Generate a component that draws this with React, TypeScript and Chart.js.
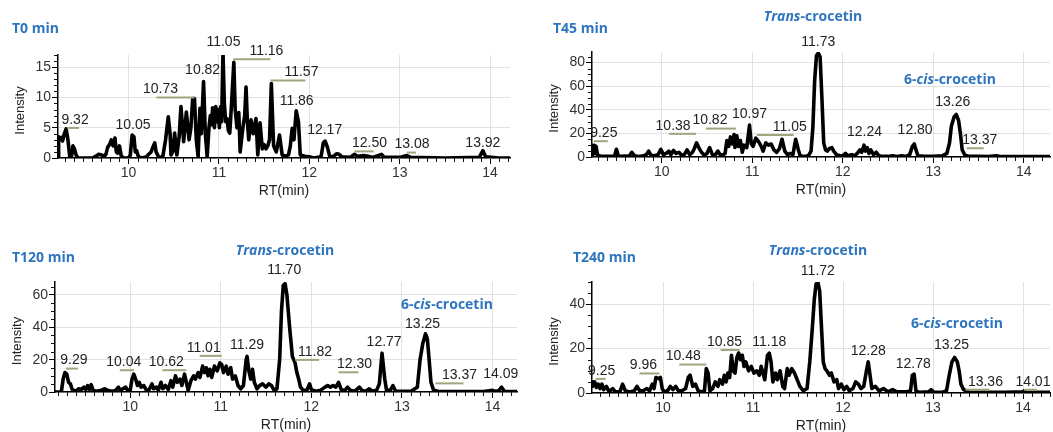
import React, { useEffect, useRef } from "react";
import { Chart, registerables } from "chart.js";

Chart.register(...registerables);

// ---------------- data ----------------
const t0RT = [9.22, 9.227, 9.24, 9.257, 9.27, 9.29, 9.31, 9.33, 9.35, 9.37, 9.385, 9.4, 9.42, 9.44, 9.5, 9.6, 9.64, 9.67, 9.7, 9.73, 9.75, 9.77, 9.79, 9.81, 9.83, 9.85, 9.865, 9.88, 9.9, 9.92, 9.95, 10.0, 10.02, 10.04, 10.06, 10.075, 10.09, 10.11, 10.15, 10.2, 10.215, 10.25, 10.27, 10.29, 10.305, 10.34, 10.38, 10.41, 10.44, 10.46, 10.47, 10.49, 10.51, 10.535, 10.56, 10.58, 10.61, 10.64, 10.67, 10.69, 10.71, 10.73, 10.75, 10.77, 10.79, 10.805, 10.83, 10.85, 10.87, 10.89, 10.905, 10.92, 10.93, 10.95, 10.965, 10.98, 10.99, 11.005, 11.02, 11.03, 11.045, 11.06, 11.075, 11.09, 11.105, 11.12, 11.14, 11.165, 11.18, 11.2, 11.22, 11.235, 11.25, 11.265, 11.285, 11.3, 11.315, 11.33, 11.355, 11.38, 11.41, 11.43, 11.455, 11.48, 11.5, 11.52, 11.54, 11.56, 11.58, 11.605, 11.635, 11.67, 11.7, 11.74, 11.77, 11.79, 11.81, 11.83, 11.855, 11.88, 11.9, 11.95, 12.0, 12.05, 12.13, 12.155, 12.175, 12.2, 12.225, 12.26, 12.3, 12.33, 12.36, 12.45, 12.5, 12.53, 12.6, 12.65, 12.7, 12.8, 12.83, 13.0, 13.08, 13.12, 13.5, 13.88, 13.92, 13.95, 14.1, 14.22];
const t0Intensity = [0, 3.5, 3.2, 3.4, 2.8, 4.0, 4.8, 3.0, 0.2, 0.3, 2.0, 1.6, 0.5, 0, 0, 0, 0.3, 0.6, 0.5, 0.3, 0.6, 1.8, 2.2, 3.0, 2.0, 3.3, 1.0, 0.8, 2.0, 0.3, 0, 0, 0.5, 3.8, 3.5, 1.0, 1.2, 0.2, 0, 0.2, 0.5, 1.0, 1.8, 2.5, 1.0, 0, 0.3, 3.0, 6.8, 4.0, 0.5, 1.0, 4.1, 0.5, 3.5, 8.5, 2.7, 7.6, 3.0, 5.0, 9.8, 9.8, 3.0, 0.2, 8.2, 4.0, 12.6, 4.0, 0.2, 5.0, 7.0, 5.5, 8.3, 5.0, 8.5, 6.0, 8.0, 5.0, 8.5, 6.0, 17.5, 9.0, 6.0, 6.5, 4.5, 4.1, 9.0, 15.8, 8.0, 5.0, 7.5, 1.0, 3.0, 5.0, 7.0, 11.7, 6.0, 3.0, 6.3, 4.0, 6.5, 0.5, 5.8, 1.5, 2.2, 1.5, 2.0, 3.0, 12.3, 2.0, 1.0, 3.8, 0.5, 0.3, 0.5, 2.0, 4.9, 3.0, 7.8, 6.0, 0.5, 0.3, 0.2, 0, 0.2, 2.5, 2.8, 1.8, 0.3, 0.2, 0.7, 0.6, 0.2, 0.1, 0.6, 0.3, 0.4, 0.3, 0.1, 0.6, 0.1, 0.1, 0.4, 0.1, 0, 0.1, 1.2, 0.2, 0, 0];
const t0PeakRT = [9.32, 10.05, 10.73, 10.82, 11.05, 11.16, 11.57, 11.86, 12.17, 12.5, 13.08, 13.92];

const t45RT = [9.23, 9.235, 9.245, 9.255, 9.265, 9.275, 9.29, 9.31, 9.35, 9.45, 9.48, 9.5, 9.52, 9.55, 9.6, 9.64, 9.67, 9.7, 9.75, 9.8, 9.83, 9.855, 9.88, 9.92, 9.96, 9.99, 10.02, 10.05, 10.08, 10.1, 10.13, 10.16, 10.19, 10.22, 10.25, 10.28, 10.31, 10.34, 10.36, 10.385, 10.41, 10.44, 10.47, 10.5, 10.53, 10.56, 10.59, 10.62, 10.65, 10.68, 10.7, 10.72, 10.74, 10.76, 10.78, 10.8, 10.81, 10.83, 10.85, 10.87, 10.89, 10.91, 10.94, 10.97, 10.99, 11.01, 11.04, 11.07, 11.1, 11.12, 11.15, 11.18, 11.21, 11.24, 11.27, 11.3, 11.33, 11.36, 11.39, 11.42, 11.45, 11.48, 11.51, 11.53, 11.57, 11.62, 11.65, 11.67, 11.69, 11.71, 11.73, 11.75, 11.77, 11.79, 11.81, 11.83, 11.85, 11.88, 11.9, 11.93, 11.97, 12.0, 12.03, 12.06, 12.1, 12.13, 12.16, 12.19, 12.21, 12.235, 12.25, 12.27, 12.29, 12.31, 12.34, 12.37, 12.4, 12.45, 12.5, 12.55, 12.6, 12.65, 12.7, 12.74, 12.77, 12.79, 12.81, 12.83, 12.9, 13.0, 13.1, 13.15, 13.18, 13.2, 13.23, 13.255, 13.28, 13.3, 13.32, 13.35, 13.4, 13.5, 13.6, 13.7, 13.75, 14.0, 14.29];
const t45Intensity = [0, 10, 5, 10, 3, 9, 2, 1, 0.5, 0.5, 1, 6.5, 1, 0.5, 0.8, 0.5, 4, 1, 0.5, 1, 2, 5, 1.5, 1, 2, 6.5, 2, 3, 5, 2, 5.5, 3, 4, 1.5, 2, 6, 2, 4, 7, 12, 8, 4, 1.5, 3, 8, 2, 1.5, 5, 1.5, 2, 3, 14, 9, 17, 11, 19, 8, 18, 9, 14, 4, 10, 8, 27, 11, 9, 16, 13, 9, 5, 12, 10, 11, 6, 4, 7, 15, 5, 2, 3, 2, 15, 6, 1, 0.5, 1, 5, 25, 65, 86, 88, 85, 50, 12, 6, 5, 7, 8, 5, 2, 1, 1, 3, 1, 2, 1, 3, 6, 4, 10, 5, 8, 3, 6, 2, 4, 1, 0.5, 0.5, 1, 0.5, 1, 0.5, 2, 9, 11, 6, 1, 0.5, 0.5, 1, 3, 12, 26, 34, 36, 31, 20, 6, 1.5, 0.5, 0.5, 0.3, 1, 0.3, 0.3, 0.3];
const t45PeakRT = [9.25, 10.38, 10.82, 10.97, 11.05, 11.73, 12.24, 12.8, 13.26, 13.37];

const t120RT = [9.17, 9.24, 9.26, 9.28, 9.3, 9.32, 9.34, 9.36, 9.4, 9.43, 9.46, 9.49, 9.51, 9.53, 9.55, 9.57, 9.59, 9.63, 9.68, 9.72, 9.75, 9.8, 9.84, 9.87, 9.89, 9.92, 9.95, 9.97, 10.0, 10.02, 10.04, 10.06, 10.08, 10.1, 10.12, 10.15, 10.18, 10.21, 10.24, 10.26, 10.29, 10.31, 10.34, 10.36, 10.39, 10.42, 10.45, 10.47, 10.5, 10.52, 10.55, 10.57, 10.6, 10.62, 10.64, 10.67, 10.7, 10.72, 10.75, 10.77, 10.8, 10.82, 10.84, 10.86, 10.88, 10.9, 10.93, 10.96, 10.99, 11.01, 11.03, 11.06, 11.08, 11.11, 11.13, 11.16, 11.19, 11.22, 11.25, 11.28, 11.29, 11.31, 11.33, 11.35, 11.37, 11.4, 11.43, 11.46, 11.5, 11.53, 11.56, 11.59, 11.62, 11.65, 11.67, 11.69, 11.71, 11.73, 11.76, 11.79, 11.82, 11.84, 11.86, 11.88, 11.91, 11.95, 11.98, 12.0, 12.05, 12.1, 12.15, 12.18, 12.21, 12.24, 12.27, 12.3, 12.33, 12.37, 12.4, 12.43, 12.48, 12.53, 12.56, 12.6, 12.64, 12.67, 12.72, 12.75, 12.78, 12.81, 12.83, 12.87, 12.9, 12.93, 13.0, 13.1, 13.17, 13.2, 13.23, 13.26, 13.28, 13.3, 13.32, 13.35, 13.4, 13.5, 13.7, 13.9, 14.0, 14.04, 14.07, 14.1, 14.13, 14.2, 14.27];
const t120Intensity = [0, 0, 8, 12, 11, 6, 5, 1.5, 0.5, 2, 1.5, 3, 1.5, 4, 1.5, 4.5, 1, 0.5, 1, 2, 1, 0.5, 1, 3, 1, 2, 3, 1, 1, 8, 11, 8, 4, 6, 3, 4, 1, 1.5, 5, 2, 3, 1, 6, 2, 4, 1.5, 7, 3, 10, 6, 8, 4, 11, 6, 1, 7, 10, 8, 12, 9, 16, 12, 15, 10, 14, 9, 16, 13, 18, 17, 12, 16, 11, 15, 8, 10, 4, 2, 4, 20, 22, 13, 8, 14, 6, 2, 4, 5, 3, 5, 4, 1, 2, 20, 50, 66, 67, 60, 40, 22, 18, 12, 8, 3, 1, 1, 5, 1.5, 0.5, 1, 3, 4, 3, 4, 3, 6, 1.5, 1, 3, 1, 0.5, 3, 1, 0.5, 2, 0.5, 1, 5, 24, 8, 1, 1, 4, 0.5, 0.5, 0.5, 3, 20, 30, 36, 33, 20, 6, 1, 0.5, 0.3, 0.3, 0.3, 1, 0.3, 1, 3, 0.5, 0.3, 0.3];
const t120PeakRT = [9.29, 10.04, 10.62, 11.01, 11.29, 11.7, 11.82, 12.3, 12.77, 13.25, 13.37, 14.09];

const t240RT = [9.21, 9.22, 9.24, 9.26, 9.28, 9.3, 9.32, 9.34, 9.37, 9.4, 9.44, 9.47, 9.52, 9.55, 9.58, 9.63, 9.68, 9.71, 9.74, 9.78, 9.82, 9.85, 9.88, 9.9, 9.92, 9.95, 9.97, 9.99, 10.01, 10.05, 10.08, 10.11, 10.14, 10.17, 10.21, 10.25, 10.28, 10.3, 10.33, 10.36, 10.39, 10.43, 10.46, 10.48, 10.5, 10.52, 10.55, 10.58, 10.61, 10.63, 10.66, 10.68, 10.7, 10.72, 10.74, 10.76, 10.78, 10.8, 10.82, 10.84, 10.86, 10.88, 10.9, 10.92, 10.95, 10.98, 11.01, 11.04, 11.07, 11.09, 11.11, 11.13, 11.16, 11.18, 11.2, 11.22, 11.25, 11.27, 11.3, 11.33, 11.35, 11.38, 11.4, 11.43, 11.46, 11.49, 11.52, 11.56, 11.6, 11.63, 11.66, 11.68, 11.7, 11.72, 11.74, 11.76, 11.78, 11.8, 11.82, 11.85, 11.87, 11.9, 11.93, 11.95, 11.98, 12.01, 12.04, 12.07, 12.11, 12.14, 12.17, 12.2, 12.23, 12.26, 12.28, 12.3, 12.32, 12.36, 12.4, 12.45, 12.5, 12.55, 12.6, 12.7, 12.75, 12.77, 12.79, 12.81, 12.85, 12.95, 12.98, 13.01, 13.1, 13.15, 13.18, 13.21, 13.24, 13.27, 13.29, 13.31, 13.34, 13.37, 13.4, 13.6, 13.8, 14.0, 14.01, 14.04, 14.3];
const t240Intensity = [5, 3, 5, 2.5, 4, 2, 4, 1.5, 3, 0.5, 2, 0.5, 0.5, 4, 1, 0.5, 1, 3, 1, 1, 2, 1, 4, 2, 7, 6.5, 7, 2, 0.5, 1, 3, 1.5, 3, 1, 1, 2, 7, 8, 3, 4, 1, 0.5, 1, 11, 9, 1, 2, 5, 3, 6, 4, 8, 5, 9, 7, 17, 10, 9, 16, 18, 15, 17, 12, 14, 10, 12, 9, 10, 8, 12, 9, 6, 17, 18, 14, 5, 9, 6, 10, 3, 2, 11, 8, 11, 9, 6, 3, 1, 2, 14, 30, 42, 49, 50, 46, 30, 14, 11, 10, 8, 9, 5, 6, 2, 4, 1.5, 3, 1, 2, 5, 4, 2, 3, 10, 14, 8, 2, 3, 1, 2, 0.5, 1.5, 0.5, 0.5, 1, 8, 8.5, 1, 0.3, 0.5, 1.5, 0.3, 0.3, 1, 8, 14, 16, 14, 10, 4, 1.5, 1, 0.3, 0.3, 0.3, 0.5, 1, 0.3, 0.3];
const t240PeakRT = [9.25, 9.96, 10.48, 10.85, 11.18, 11.72, 12.28, 12.78, 13.25, 13.36, 14.01];

const xTickValues = [10, 11, 12, 13, 14];
const t0YTicks = [0, 5, 10, 15];
const t45YTicks = [0, 20, 40, 60, 80];
const t120YTicks = [0, 20, 40, 60];
const t240YTicks = [0, 20, 40];

// ---------------- layout / style ----------------
const BLUE = "#2e75c0";
const SANS = "'Liberation Sans', Arial, sans-serif";
type Part = [string, boolean];
type TitleDef = { parts: Part[]; x: number; y: number; align: "left" | "center" };
const TRANS: Part[] = [["Trans", true], ["-crocetin", false]];
const CIS: Part[] = [["6-", false], ["cis", true], ["-crocetin", false]];

// label offsets [dx, dy] (px) relative to the peak top
const t0LabelLayout = [[8, 8], [0, 9], [-34, 8], [0, 11], [0, 9], [33, 10], [31, 10], [0, 9], [0, 10], [15, 10], [5, 10], [0, 7]];
const t45LabelLayout = [[10, 11], [-23, 16], [-26, 13], [0, 10], [33, 10], [0, 10], [0, 12], [0, 13], [-4, 11], [13, 14]];
const t120LabelLayout = [[8, 11], [-10, 11], [-20, 11], [-18, 14], [0, 10], [0, 12], [20, 10], [16, 17], [3, 10], [-2, 9], [24, 14], [0, 12]];
const t240LabelLayout = [[6, 10], [-16, 11], [-23, 11], [-15, 10], [0, 10], [0, 10], [0, 10], [0, 9], [-4, 11], [20, 7], [9, 8]];

type PanelDef = {
  id: string;
  x: number; y: number; w: number; h: number;
  area: { l: number; t: number; r: number; b: number };
  xMin: number; xMax: number; yMax: number; yMinor: number;
  yTicks: number[];
  rt: number[]; inten: number[];
  peaks: number[]; layout: number[][];
  titles: TitleDef[];
};

const panels: PanelDef[] = [
  {
    id: "t0", x: 0, y: 0, w: 520, h: 215,
    area: { l: 58, t: 55, r: 510, b: 158 },
    xMin: 9.22, xMax: 14.22, yMax: 17, yMinor: 1, yTicks: t0YTicks,
    rt: t0RT, inten: t0Intensity, peaks: t0PeakRT, layout: t0LabelLayout,
    titles: [{ parts: [["T0 min", false]], x: 12, y: 29, align: "left" }],
  },
  {
    id: "t45", x: 520, y: 0, w: 533, h: 215,
    area: { l: 72, t: 52, r: 530, b: 157 },
    xMin: 9.23, xMax: 14.29, yMax: 89, yMinor: 5, yTicks: t45YTicks,
    rt: t45RT, inten: t45Intensity, peaks: t45PeakRT, layout: t45LabelLayout,
    titles: [
      { parts: [["T45 min", false]], x: 33, y: 29, align: "left" },
      { parts: TRANS, x: 293, y: 17, align: "center" },
      { parts: CIS, x: 430, y: 80, align: "center" },
    ],
  },
  {
    id: "t120", x: 0, y: 230, w: 520, h: 202,
    area: { l: 55, t: 52, r: 517, b: 162 },
    xMin: 9.17, xMax: 14.27, yMax: 68, yMinor: 5, yTicks: t120YTicks,
    rt: t120RT, inten: t120Intensity, peaks: t120PeakRT, layout: t120LabelLayout,
    titles: [
      { parts: [["T120 min", false]], x: 12, y: 28, align: "left" },
      { parts: TRANS, x: 285, y: 21, align: "center" },
      { parts: CIS, x: 447, y: 75, align: "center" },
    ],
  },
  {
    id: "t240", x: 520, y: 230, w: 533, h: 202,
    area: { l: 72, t: 52, r: 530, b: 163 },
    xMin: 9.21, xMax: 14.3, yMax: 50, yMinor: 5, yTicks: t240YTicks,
    rt: t240RT, inten: t240Intensity, peaks: t240PeakRT, layout: t240LabelLayout,
    titles: [
      { parts: [["T240 min", false]], x: 53, y: 28, align: "left" },
      { parts: TRANS, x: 298, y: 21, align: "center" },
      { parts: CIS, x: 437, y: 94, align: "center" },
    ],
  },
];

function drawRich(ctx: CanvasRenderingContext2D, t: TitleDef) {
  const fontFor = (it: boolean) => `${it ? "italic " : ""}bold 14px 'Open Sans', sans-serif`;
  let w = 0;
  t.parts.forEach(([s, it]) => {
    ctx.font = fontFor(it);
    w += ctx.measureText(s).width;
  });
  let cx = t.align === "center" ? t.x - w / 2 : t.x;
  ctx.textAlign = "left";
  ctx.textBaseline = "middle";
  ctx.fillStyle = BLUE;
  t.parts.forEach(([s, it]) => {
    ctx.font = fontFor(it);
    ctx.fillText(s, cx, t.y);
    cx += ctx.measureText(s).width;
  });
}

function makeDecor(p: PanelDef) {
  return {
    id: "decor_" + p.id,
    afterDraw(chart: any) {
      const ctx: CanvasRenderingContext2D = chart.ctx;
      const a = chart.chartArea;
      const xs = chart.scales.x;
      const ys = chart.scales.y;
      ctx.save();
      // minor ticks
      ctx.strokeStyle = "#111";
      ctx.lineWidth = 1;
      ctx.beginPath();
      for (let k = Math.ceil(p.xMin * 10); k <= Math.floor(p.xMax * 10); k++) {
        if (k % 10 === 0) continue;
        const x = Math.round(xs.getPixelForValue(k / 10)) + 0.5;
        ctx.moveTo(x, a.bottom);
        ctx.lineTo(x, a.bottom + 4);
      }
      for (let v = 0; v <= p.yMax; v += p.yMinor) {
        if (p.yTicks.includes(v)) continue;
        const y = Math.round(ys.getPixelForValue(v)) + 0.5;
        ctx.moveTo(a.left - 4, y);
        ctx.lineTo(a.left, y);
      }
      ctx.stroke();

      // peak labels
      p.peaks.forEach((rt, i) => {
        const [dx, dy] = p.layout[i];
        let top = -1;
        p.rt.forEach((r, j) => {
          if (Math.abs(r - rt) <= 0.0201 && p.inten[j] > top) top = p.inten[j];
        });
        if (top < 0) {
          let best = 0;
          p.rt.forEach((r, j) => {
            if (Math.abs(r - rt) < Math.abs(p.rt[best] - rt)) best = j;
          });
          top = p.inten[best];
        }
        const px = xs.getPixelForValue(rt);
        const py = ys.getPixelForValue(top);
        const tx = px + dx;
        const ty = py - dy;
        if (Math.abs(dx) >= 5) {
          ctx.strokeStyle = "#a3a37e";
          ctx.lineWidth = 2;
          ctx.beginPath();
          ctx.moveTo(px, ty + 7);
          ctx.lineTo(tx + Math.sign(dx) * 4, ty + 7);
          ctx.stroke();
        }
        ctx.font = `14px ${SANS}`;
        ctx.fillStyle = "#222";
        ctx.textAlign = "center";
        ctx.textBaseline = "middle";
        ctx.fillText(rt.toFixed(2), tx, ty - 1);
      });

      // axis titles
      ctx.fillStyle = "#222";
      ctx.font = `14px ${SANS}`;
      ctx.textAlign = "center";
      ctx.textBaseline = "middle";
      ctx.fillText("RT(min)", (a.left + a.right) / 2, a.bottom + 33);
      ctx.save();
      ctx.translate(a.left - 38, (a.top + a.bottom) / 2 + 4);
      ctx.rotate(-Math.PI / 2);
      ctx.font = `13px ${SANS}`;
      ctx.fillText("Intensity", 0, 0);
      ctx.restore();

      // panel titles
      p.titles.forEach((t) => drawRich(ctx, t));
      ctx.restore();
    },
  };
}

function Panel({ p }: { p: PanelDef }) {
  const ref = useRef<HTMLCanvasElement>(null);
  useEffect(() => {
    const canvas = ref.current!;
    const chart = new Chart(canvas, {
      type: "line",
      data: {
        datasets: [
          {
            data: p.rt.map((x, i) => ({ x, y: p.inten[i] })),
            borderColor: "#000",
            borderWidth: 3.6,
            pointRadius: 0,
            tension: 0,
            fill: false,
            borderJoinStyle: "round",
          } as any,
        ],
      },
      options: {
        animation: false,
        responsive: false,
        maintainAspectRatio: false,
        devicePixelRatio: 1,
        layout: {
          padding: { left: 0, top: p.area.t, right: p.w - p.area.r, bottom: 0 },
        },
        plugins: { legend: { display: false }, tooltip: { enabled: false } },
        scales: {
          x: {
            type: "linear",
            min: p.xMin,
            max: p.xMax,
            afterBuildTicks: (s: any) => {
              s.ticks = xTickValues.map((v) => ({ value: v }));
            },
            afterFit: (s: any) => {
              s.height = p.h - p.area.b;
            },
            grid: { color: "#e2e2e2", tickColor: "#000", tickLength: 6, lineWidth: 1 },
            border: { color: "#000", width: 1.5 },
            ticks: { font: { family: SANS, size: 14 }, color: "#333", padding: 1, maxRotation: 0, autoSkip: false },
          },
          y: {
            type: "linear",
            min: 0,
            max: p.yMax,
            afterBuildTicks: (s: any) => {
              s.ticks = p.yTicks.map((v) => ({ value: v }));
            },
            afterFit: (s: any) => {
              s.width = p.area.l;
            },
            grid: { color: "#e2e2e2", tickColor: "#000", tickLength: 6, lineWidth: 1 },
            border: { color: "#000", width: 1.5 },
            ticks: { font: { family: SANS, size: 14 }, color: "#333", padding: 1, autoSkip: false },
          },
        },
      } as any,
      plugins: [makeDecor(p)],
    });
    return () => chart.destroy();
  }, [p]);
  return (
    <canvas
      ref={ref}
      width={p.w}
      height={p.h}
      style={{ position: "absolute", left: p.x, top: p.y, width: p.w, height: p.h }}
    />
  );
}

export default function App() {
  return (
    <div style={{ position: "fixed", left: 0, top: 0, width: 1053, height: 432, background: "#fff", overflow: "hidden" }}>
      {panels.map((p) => (
        <Panel key={p.id} p={p} />
      ))}
    </div>
  );
}
